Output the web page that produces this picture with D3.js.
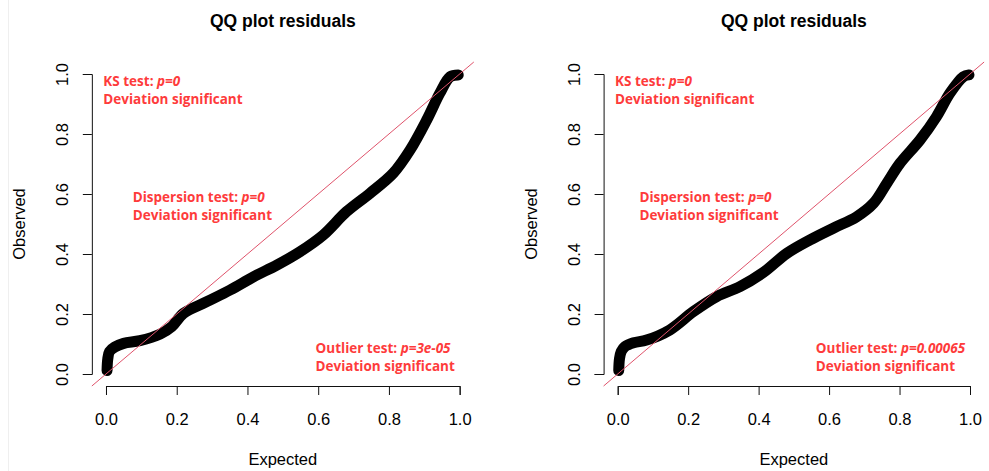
<!DOCTYPE html>
<html>
<head>
<meta charset="utf-8">
<script src="https://cdn.jsdelivr.net/npm/d3@7"></script>
<style>
  body { margin: 0; background: #fff; }
  svg { display: block; }
  .axis text { font-family: "Liberation Sans", Arial, sans-serif; font-size: 16.5px; fill: #000; }
  .axis path, .axis line { stroke: #111; }
  .lab { font-family: "Liberation Sans", Arial, sans-serif; font-size: 16.5px; fill: #000; }
  .title { font-family: "Liberation Sans", Arial, sans-serif; font-size: 17.5px; font-weight: bold; fill: #000; }
  .note { font-family: "Open Sans", sans-serif; font-weight: 700; font-size: 13.5px; fill: #fe3b3b; }
</style>
</head>
<body>
<svg id="chart" width="989" height="471"></svg>
<script>
// values (expected vs observed quantiles)
const expectedLeft = [0.003, 0.005, 0.01, 0.025, 0.05, 0.096, 0.153, 0.186, 0.219, 0.285, 0.351, 0.417, 0.483, 0.549, 0.614, 0.68, 0.746, 0.812, 0.86, 0.907, 0.944, 0.973, 0.996];
const observedLeft = [0.012, 0.05, 0.075, 0.09, 0.102, 0.111, 0.133, 0.158, 0.202, 0.241, 0.28, 0.324, 0.363, 0.408, 0.463, 0.541, 0.602, 0.669, 0.747, 0.847, 0.936, 0.991, 0.997];

const expectedRight = [0.003, 0.005, 0.01, 0.02, 0.045, 0.082, 0.148, 0.215, 0.281, 0.347, 0.413, 0.48, 0.546, 0.612, 0.678, 0.726, 0.764, 0.801, 0.858, 0.905, 0.943, 0.981, 0.997];
const observedRight = [0.012, 0.05, 0.075, 0.091, 0.104, 0.113, 0.147, 0.208, 0.258, 0.291, 0.338, 0.402, 0.447, 0.486, 0.524, 0.569, 0.636, 0.702, 0.78, 0.858, 0.936, 0.991, 0.997];

const tickValues = [0, 0.2, 0.4, 0.6, 0.8, 1.0];
const titleText = "QQ plot residuals";
const xLabel = "Expected";
const yLabel = "Observed";
const verdict = "Deviation significant";
const testsLeft = [["KS test: ", "p=0"], ["Dispersion test: ", "p=0"], ["Outlier test: ", "p=3e-05"]];
const testsRight = [["KS test: ", "p=0"], ["Dispersion test: ", "p=0"], ["Outlier test: ", "p=0.00065"]];

const svg = d3.select("#chart");

// faint edge of the screenshot
svg.append("line")
    .attr("x1", 8.5).attr("x2", 8.5)
    .attr("y1", 0).attr("y2", 471)
    .attr("stroke", "#efefef");

const panels = [
    { exp: expectedLeft, obs: observedLeft, tests: testsLeft, x0: 91.85, x1: 473.8, dispDx: 40.9 },
    { exp: expectedRight, obs: observedRight, tests: testsRight, x0: 603.6, x1: 984.1, dispDx: 35.8 }
];

// R pads the data range by 4% on each side
const y = d3.scaleLinear().domain([-0.04, 1.04]).range([386, 62]);
const fmt = d3.format(".1f");

panels.forEach(p => {
    const x = d3.scaleLinear().domain([-0.04, 1.04]).range([p.x0, p.x1]);
    // axis scales only span the tick range, like base R axes
    const xa = d3.scaleLinear().domain([0, 1]).range([x(0), x(1)]);
    const ya = d3.scaleLinear().domain([0, 1]).range([y(0), y(1)]);
    const g = svg.append("g");

    g.append("g")
        .attr("class", "axis")
        .attr("transform", `translate(0,${y(-0.04)})`)
        .call(d3.axisBottom(xa).tickValues(tickValues).tickFormat(fmt).tickSize(9).tickPadding(18));

    g.append("g")
        .attr("class", "axis")
        .attr("transform", `translate(${x(-0.04)},0)`)
        .call(d3.axisLeft(ya).tickValues(tickValues).tickFormat(fmt).tickSize(9))
        .selectAll("text")
        .attr("transform", "rotate(-90)")
        .attr("x", 0)
        .attr("y", -24)
        .attr("dy", 0)
        .attr("text-anchor", "middle");

    const cx = (p.x0 + p.x1) / 2;
    g.append("text").attr("class", "title")
        .attr("x", cx).attr("y", 26.5)
        .attr("text-anchor", "middle")
        .text(titleText);

    g.append("text").attr("class", "lab")
        .attr("x", cx).attr("y", 465)
        .attr("text-anchor", "middle")
        .text(xLabel);

    g.append("text").attr("class", "lab")
        .attr("transform", `translate(${p.x0 - 66.85},${(y(-0.04) + y(1.04)) / 2}) rotate(-90)`)
        .attr("text-anchor", "middle")
        .text(yLabel);

    // observed quantiles, drawn as a thick band of points
    const pts = p.exp.map((e, i) => [e, p.obs[i]]);
    g.append("path")
        .datum(pts)
        .attr("fill", "none")
        .attr("stroke", "#000")
        .attr("stroke-width", 11)
        .attr("stroke-linecap", "round")
        .attr("stroke-linejoin", "round")
        .attr("d", d3.line()
            .x(d => x(d[0]))
            .y(d => y(d[1]))
            .curve(d3.curveCatmullRom.alpha(0.5)));

    // 1:1 reference line across the plot region
    g.append("path")
        .datum(x.domain())
        .attr("fill", "none")
        .attr("stroke", "#DF536B")
        .attr("stroke-width", 1)
        .attr("d", d3.line().x(d => x(d)).y(d => y(d)));

    // test annotations
    const addNote = (test, tx, ty) => {
        const t = g.append("text").attr("class", "note").attr("x", tx).attr("y", ty);
        t.append("tspan").text(test[0]);
        t.append("tspan").attr("font-style", "italic").text(test[1]);
        const t2 = g.append("text").attr("class", "note").attr("x", tx).attr("y", ty + 18.3).text(verdict);
        return Math.max(t.node().getComputedTextLength(), t2.node().getComputedTextLength());
    };
    addNote(p.tests[0], p.x0 + 11.5, 86);
    addNote(p.tests[1], p.x0 + p.dispDx, 201.7);
    const g3 = g.append("g");
    const w = (() => {
        const t = g3.append("text").attr("class", "note").attr("y", 352.7);
        t.append("tspan").text(p.tests[2][0]);
        t.append("tspan").attr("font-style", "italic").text(p.tests[2][1]);
        g3.append("text").attr("class", "note").attr("y", 352.7 + 18.3).text(verdict);
        return d3.max(g3.selectAll("text").nodes(), n => n.getComputedTextLength());
    })();
    g3.selectAll("text").attr("x", p.x1 - 19 - w);
});
</script>
</body>
</html>
